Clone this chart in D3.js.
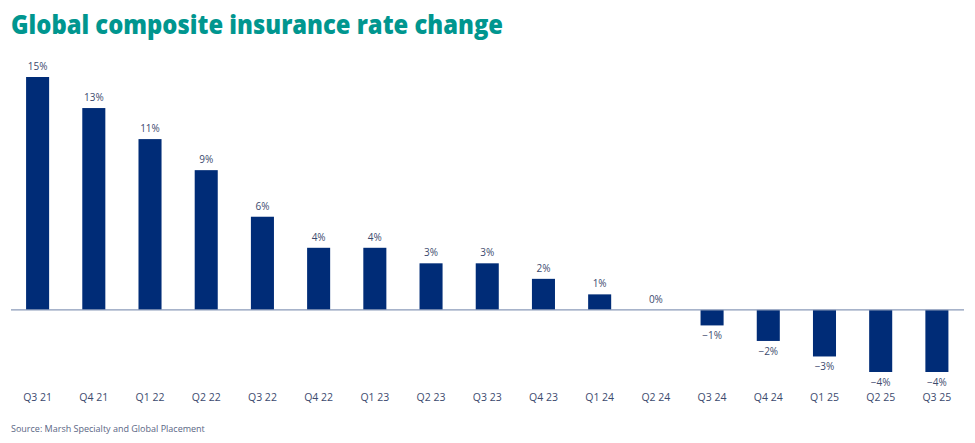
<!DOCTYPE html>
<html><head><meta charset="utf-8">
<script src="https://cdn.jsdelivr.net/npm/d3@7"></script>
<style>body{margin:0;background:#fff;}svg{display:block;}</style>
</head><body>
<svg id="c" width="975" height="443"></svg>
<script>
const categories = ["Q3 21","Q4 21","Q1 22","Q2 22","Q3 22","Q4 22","Q1 23","Q2 23","Q3 23","Q4 23","Q1 24","Q2 24","Q3 24","Q4 24","Q1 25","Q2 25","Q3 25"];
const values = [15,13,11,9,6,4,4,3,3,2,1,0,-1,-2,-3,-4,-4];
const labels = ["15%","13%","11%","9%","6%","4%","4%","3%","3%","2%","1%","0%","\u22121%","\u22122%","\u22123%","\u22124%","\u22124%"];

const svg = d3.select("#c");
const x = d3.scaleBand().domain(categories).range([9.5, 965]).paddingInner(0.59).paddingOuter(0.295);
const y = d3.scaleLinear().domain([-4, 15]).range([372, 77]);

svg.append("text").attr("x", 11).attr("y", 34)
  .attr("font-family", "Open Sans").attr("font-weight", 800).attr("font-size", 26.5)
  .attr("fill", "#00968f")
  .attr("textLength", 492).attr("lengthAdjust", "spacingAndGlyphs")
  .text("Global composite insurance rate change");

svg.append("g").selectAll("rect").data(values).join("rect")
  .attr("x", (d,i) => x(categories[i]))
  .attr("width", x.bandwidth())
  .attr("y", d => y(Math.max(0, d)))
  .attr("height", d => Math.abs(y(d) - y(0)))
  .attr("fill", "#002c77");

svg.append("line").attr("x1", 11).attr("x2", 964).attr("y1", y(0)).attr("y2", y(0))
  .attr("stroke", "#8a9ab8").attr("stroke-width", 1.2);

svg.append("g").selectAll("text").data(values).join("text")
  .attr("x", (d,i) => x(categories[i]) + x.bandwidth()/2)
  .attr("y", d => d >= 0 ? y(d) - 7 : y(d) + 14)
  .attr("text-anchor", "middle")
  .attr("font-family", "Open Sans").attr("font-size", 10)
  .attr("fill", "#3c4a6e")
  .text((d,i) => labels[i]);

const axis = d3.axisBottom(x).tickSize(0).tickPadding(0);
const g = svg.append("g").attr("transform", "translate(0,401)").call(axis);
g.select(".domain").remove();
g.selectAll("text").attr("font-family", "Open Sans").attr("font-size", 10.5).attr("fill", "#3c4a6e").attr("dy", 0);

svg.append("text").attr("x", 11).attr("y", 432)
  .attr("font-family", "Open Sans").attr("font-size", 9).attr("fill", "#5a6684")
  .text("Source: Marsh Specialty and Global Placement");
</script>
</body></html>
